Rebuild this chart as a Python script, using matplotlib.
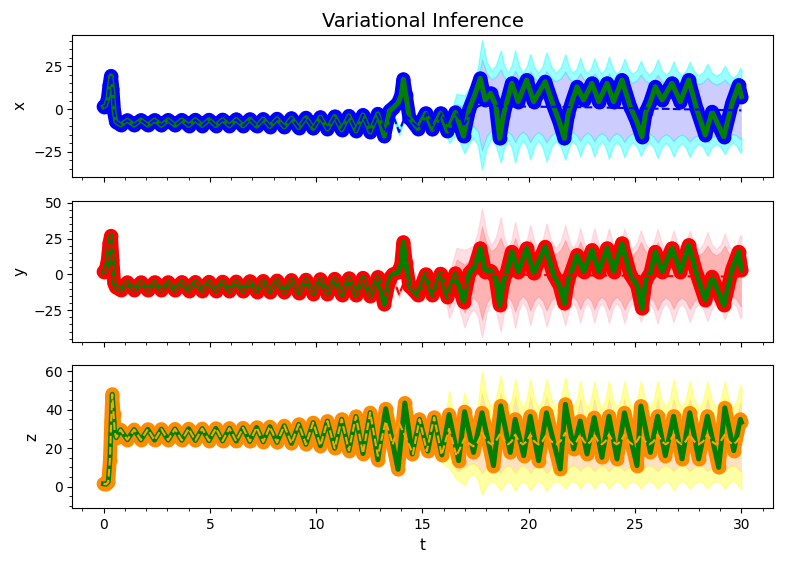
import numpy as np
import matplotlib
matplotlib.use("Agg")
import matplotlib.pyplot as plt
from matplotlib.ticker import MultipleLocator

# ---------------- data ----------------
# truth / observation key points for x and y (shared times)
t_xy = [0.0, 0.1, 0.2, 0.28, 0.35, 0.42, 0.5, 0.58, 0.8, 1.12,
        1.44, 1.76, 2.08, 2.4, 2.72, 3.04, 3.36, 3.68, 4.0, 4.32,
        4.64, 4.96, 5.28, 5.6, 5.92, 6.24, 6.56, 6.88, 7.2, 7.51,
        7.82, 8.16, 8.5, 8.84, 9.18, 9.52, 9.86, 10.2, 10.53, 10.87,
        11.2, 11.54, 11.87, 12.2, 12.54, 12.9, 13.2, 13.45, 13.6, 13.85,
        14.0, 14.1, 14.22, 14.38, 14.78, 15.15, 15.47, 15.85, 16.17, 16.55,
        16.93, 17.2, 17.45, 17.72, 17.95, 18.2, 18.45, 18.63, 18.8, 18.97,
        19.2, 19.5, 19.9, 20.23, 20.77, 21.17, 21.45, 21.67, 21.85, 22.03,
        22.27, 22.58, 22.97, 23.29, 23.68, 23.99, 24.38, 24.77, 25.1, 25.32,
        25.5, 25.72, 25.95, 26.27, 26.73, 27.13, 27.52, 27.91, 28.3, 28.62,
        29.17, 29.56, 29.87, 30.0]

x_true = [1.4, 2.0, 6.0, 14.0, 19.5, 12.0, -2.0, -7.5, -9.4, -6.6,
          -9.5, -6.5, -9.5, -6.5, -9.6, -6.4, -9.6, -6.4, -9.7, -6.3,
          -9.7, -6.3, -9.8, -6.2, -9.9, -6.1, -10.0, -6.0, -10.1, -5.9,
          -10.3, -5.7, -10.6, -5.4, -11.0, -5.1, -11.4, -4.8, -11.8, -4.4,
          -12.3, -4.0, -12.9, -3.5, -13.6, -2.8, -16.0, -1.0, 0.5, 3.5,
          8.0, 17.5, 8.0, -5.0, -11.5, -2.5, -12.0, -2.5, -13.0, -2.0,
          -16.0, 0.0, 8.0, 18.0, 5.3, 9.2, 2.0, -17.3, -4.0, 4.3,
          15.1, 4.3, 17.1, 4.3, 16.1, 1.4, -8.0, -17.3, -3.0, 4.3,
          13.1, 5.3, 15.1, 4.3, 15.1, 4.3, 17.1, 1.4, -8.0, -16.3,
          -2.0, 4.3, 13.1, 5.3, 15.1, 4.3, 17.1, -0.6, -15.3, -1.6,
          -16.3, 3.3, 14.1, 7.3]

y_true = [1.8, 3.0, 10.0, 22.0, 27.0, 10.0, -6.0, -9.0, -11.0, -5.6,
          -11.0, -5.6, -11.1, -5.5, -11.1, -5.5, -11.2, -5.4, -11.3, -5.3,
          -11.4, -5.2, -11.5, -5.1, -11.6, -5.0, -11.8, -4.8, -12.0, -4.6,
          -12.3, -4.3, -12.6, -4.0, -13.0, -3.7, -13.4, -3.4, -13.8, -3.1,
          -14.2, -2.8, -14.6, -2.4, -15.3, -1.8, -21.0, -3.0, 0.0, 1.5,
          7.0, 22.5, 8.0, -8.0, -14.5, 0.0, -14.5, 0.5, -15.6, 0.7,
          -19.0, 1.0, 5.0, 18.2, 2.0, 2.5, -3.0, -21.5, -5.0, 1.9,
          15.8, 1.9, 18.2, 0.7, 19.3, -0.5, -8.0, -20.3, -4.0, 3.1,
          13.5, 1.9, 17.0, 1.9, 18.2, 1.9, 21.7, 0.0, -8.0, -23.8,
          -4.0, 1.0, 15.8, 1.9, 18.2, 1.9, 20.5, -0.5, -17.9, -1.6,
          -21.5, 3.1, 15.8, 3.1]

# truth / observation key points for z
t_z = [0.0, 0.12, 0.22, 0.3, 0.36, 0.41, 0.47, 0.53, 0.6, 0.8,
       1.12, 1.44, 1.76, 2.08, 2.4, 2.72, 3.04, 3.36, 3.68, 4.0,
       4.32, 4.64, 4.96, 5.28, 5.6, 5.92, 6.24, 6.56, 6.88, 7.2,
       7.51, 7.82, 8.16, 8.5, 8.84, 9.18, 9.52, 9.86, 10.2, 10.53,
       10.87, 11.2, 11.54, 11.87, 12.2, 12.54, 12.9, 13.27, 13.85, 14.17,
       14.52, 14.86, 15.25, 15.55, 15.91, 16.25, 16.7, 16.98, 17.4, 17.8,
       18.34, 18.68, 19.13, 19.36, 19.76, 20.07, 20.46, 20.83, 21.48, 21.72,
       22.11, 22.42, 22.74, 23.08, 23.44, 23.77, 24.15, 24.5, 25.09, 25.27,
       25.72, 26.06, 26.42, 26.81, 27.21, 27.57, 27.99, 28.4, 28.93, 29.22,
       29.64, 29.95, 30.0]

z_true = [1.5, 1.3, 2.5, 14.0, 34.0, 48.0, 38.0, 28.0, 25.5, 29.6,
          24.4, 29.7, 24.3, 29.8, 24.2, 29.9, 24.2, 30.0, 24.1, 30.1,
          24.0, 30.2, 23.9, 30.3, 23.8, 30.4, 23.7, 30.6, 23.5, 30.8,
          23.3, 31.2, 23.0, 31.7, 22.5, 32.4, 22.0, 33.3, 21.3, 34.1,
          20.0, 35.0, 18.8, 36.5, 17.2, 38.5, 14.0, 40.5, 9.0, 43.5,
          17.0, 35.0, 18.5, 36.0, 16.5, 37.5, 13.5, 39.0, 17.8, 38.4,
          10.9, 42.0, 17.8, 35.0, 16.1, 36.6, 13.5, 38.4, 9.2, 42.8,
          19.6, 34.1, 17.0, 35.9, 15.2, 36.6, 14.4, 38.4, 10.9, 41.9,
          17.8, 36.6, 16.1, 36.6, 14.4, 38.4, 14.4, 36.6, 10.0, 41.0,
          18.7, 35.0, 33.5]

# posterior mean and band half-widths (1 and 2 std) from t = 12.54 on
t_band = [12.54, 12.9, 13.27, 13.6, 13.9, 14.2, 14.55,
          14.86, 15.2, 15.55, 15.9, 16.25, 16.6,
          16.98, 17.19, 17.39, 17.6,
          17.8, 18.02, 18.24, 18.46,
          18.68, 18.85, 19.02, 19.19,
          19.36, 19.54, 19.72, 19.9,
          20.07, 20.26, 20.45, 20.64,
          20.83, 21.06, 21.28, 21.5,
          21.72, 21.9, 22.07, 22.25,
          22.42, 22.59, 22.75, 22.92,
          23.08, 23.26, 23.43, 23.6,
          23.77, 23.95, 24.13, 24.32,
          24.5, 24.69, 24.88, 25.08,
          25.27, 25.47, 25.67, 25.87,
          26.06, 26.25, 26.44, 26.63,
          26.81, 27.0, 27.19, 27.38,
          27.57, 27.78, 27.99, 28.2,
          28.4, 28.6, 28.81, 29.02,
          29.22, 29.4, 29.59, 29.77,
          29.95, 30.0]

x_mean = [-13.6, -3.0, -14.0, -3.0, -13.5, -3.5, -8.0,
          -11.5, -2.5, -12.0, -2.5, -13.0, -3.0,
          -9.0, -4.0, -1.0, 1.5,
          2.5, 2.5, 2.5, 2.0,
          1.5, 1.5, 1.6, 1.5,
          1.5, 1.5, 1.5, 1.4,
          1.4, 1.4, 1.4, 1.3,
          1.3, 1.3, 1.3, 1.2,
          1.2, 1.2, 1.2, 1.1,
          1.1, 1.0, 1.0, 1.0,
          1.0, 0.9, 0.9, 0.8,
          0.8, 0.7, 0.7, 0.6,
          0.6, 0.5, 0.5, 0.4,
          0.4, 0.3, 0.3, 0.2,
          0.2, 0.1, 0.1, 0.0,
          0.0, -0.1, -0.1, -0.2,
          -0.2, -0.3, -0.3, -0.4,
          -0.4, -0.5, -0.5, -0.6,
          -0.6, -0.7, -0.7, -0.8,
          -0.8, -0.8]
x_s1 = [0.3, 0.5, 0.8, 1.0, 1.0, 0.8, 0.6,
        0.6, 0.6, 0.8, 1.0, 3.0, 6.0,
        10.0, 9.3, 9.0, 14.4,
        27.0, 18.6, 15.0, 17.1,
        22.0, 17.1, 15.0, 16.8,
        21.0, 16.8, 15.0, 16.8,
        21.0, 16.8, 15.0, 16.8,
        21.0, 16.8, 15.0, 16.8,
        21.0, 16.8, 15.0, 16.5,
        20.0, 16.5, 15.0, 16.5,
        20.0, 16.5, 15.0, 16.5,
        20.0, 16.5, 15.0, 16.5,
        20.0, 16.5, 15.0, 16.5,
        20.0, 16.5, 15.0, 16.5,
        20.0, 16.5, 15.0, 16.2,
        19.0, 16.2, 15.0, 16.2,
        19.0, 16.2, 15.0, 16.2,
        19.0, 16.2, 15.0, 15.9,
        18.0, 15.6, 14.0, 14.9,
        17.0, 16.0]
x_s2 = [0.6, 1.0, 1.6, 2.0, 2.0, 1.6, 1.2,
        1.2, 1.4, 1.8, 2.5, 7.0, 12.0,
        17.0, 16.3, 16.0, 22.6,
        38.0, 25.4, 20.0, 23.9,
        33.0, 23.9, 20.0, 23.9,
        33.0, 23.9, 20.0, 23.3,
        31.0, 23.3, 20.0, 23.6,
        32.0, 23.6, 20.0, 23.3,
        31.0, 23.3, 20.0, 22.7,
        29.0, 22.7, 20.0, 22.7,
        29.0, 22.7, 20.0, 23.0,
        30.0, 23.0, 20.0, 22.7,
        29.0, 22.7, 20.0, 22.4,
        28.0, 22.4, 20.0, 22.7,
        29.0, 22.7, 20.0, 22.4,
        28.0, 22.4, 20.0, 22.4,
        28.0, 22.4, 20.0, 22.1,
        27.0, 22.1, 20.0, 21.8,
        26.0, 21.5, 19.0, 20.8,
        25.0, 24.0]

y_mean = [-15.3, -2.0, -15.0, -2.0, -14.0, -3.0, -10.0,
          -14.5, 0.0, -14.5, 0.5, -15.6, 0.5,
          -10.0, -5.0, -2.0, 0.0,
          1.0, 0.8, 0.5, 0.2,
          0.0, -0.1, -0.2, -0.2,
          -0.3, -0.3, -0.3, -0.3,
          -0.4, -0.4, -0.4, -0.4,
          -0.5, -0.5, -0.5, -0.5,
          -0.6, -0.6, -0.6, -0.6,
          -0.7, -0.7, -0.7, -0.7,
          -0.8, -0.8, -0.8, -0.8,
          -0.9, -0.9, -0.9, -0.9,
          -1.0, -1.0, -1.0, -1.0,
          -1.1, -1.1, -1.1, -1.1,
          -1.2, -1.2, -1.2, -1.2,
          -1.3, -1.3, -1.3, -1.3,
          -1.4, -1.4, -1.4, -1.4,
          -1.5, -1.5, -1.5, -1.5,
          -1.5, -1.5, -1.5, -1.5,
          -1.5, -1.5]
y_s1 = [0.4, 0.6, 1.0, 1.2, 1.2, 1.0, 0.8,
        0.8, 0.8, 1.0, 1.5, 8.0, 10.0,
        17.0, 15.0, 14.0, 19.7,
        33.0, 21.0, 16.0, 19.0,
        26.0, 19.0, 16.0, 19.0,
        26.0, 18.3, 15.0, 18.0,
        25.0, 18.0, 15.0, 18.0,
        25.0, 18.0, 15.0, 18.0,
        25.0, 18.0, 15.0, 17.7,
        24.0, 17.7, 15.0, 17.7,
        24.0, 17.7, 15.0, 17.7,
        24.0, 17.7, 15.0, 17.7,
        24.0, 17.7, 15.0, 17.7,
        24.0, 17.7, 15.0, 17.7,
        24.0, 17.7, 15.0, 17.4,
        23.0, 17.4, 15.0, 17.4,
        23.0, 17.4, 15.0, 17.1,
        22.0, 17.1, 15.0, 17.1,
        22.0, 16.4, 14.0, 16.1,
        21.0, 20.0]
y_s2 = [0.8, 1.2, 2.0, 2.4, 2.4, 2.0, 1.6,
        1.6, 1.6, 2.0, 3.0, 15.0, 18.0,
        27.0, 23.5, 22.0, 29.0,
        45.0, 27.5, 20.0, 26.0,
        40.0, 25.0, 19.0, 24.4,
        37.0, 24.4, 19.0, 23.8,
        35.0, 23.8, 19.0, 24.1,
        36.0, 24.1, 19.0, 23.8,
        35.0, 23.8, 19.0, 23.2,
        33.0, 23.2, 19.0, 23.2,
        33.0, 23.2, 19.0, 23.2,
        33.0, 23.2, 19.0, 23.2,
        33.0, 23.2, 19.0, 22.9,
        32.0, 22.9, 19.0, 23.2,
        33.0, 23.2, 19.0, 22.9,
        32.0, 22.9, 19.0, 22.9,
        32.0, 22.9, 19.0, 22.6,
        31.0, 22.6, 19.0, 22.3,
        30.0, 21.6, 18.0, 21.3,
        29.0, 28.0]

z_mean = [38.5, 16.0, 34.0, 22.0, 33.0, 26.0, 17.0,
          35.0, 18.5, 36.0, 16.5, 30.0, 16.0,
          25.0, 22.5, 21.0, 23.0,
          28.0, 23.8, 22.0, 23.8,
          28.0, 23.8, 22.0, 23.5,
          27.0, 23.5, 22.0, 23.5,
          27.0, 23.5, 22.0, 23.5,
          27.0, 23.5, 22.0, 23.8,
          28.0, 23.8, 22.0, 23.5,
          27.0, 23.5, 22.0, 23.5,
          27.0, 23.5, 22.0, 23.5,
          27.0, 23.5, 22.0, 23.5,
          27.0, 23.5, 22.0, 23.5,
          27.0, 23.5, 22.0, 23.5,
          27.0, 23.5, 22.0, 23.5,
          27.0, 23.5, 22.0, 23.5,
          27.0, 23.5, 22.0, 23.5,
          27.0, 23.5, 22.0, 23.5,
          27.0, 23.5, 22.0, 23.2,
          26.0, 25.0]
z_s1 = [0.5, 0.8, 1.2, 1.5, 1.5, 1.2, 1.0,
        1.0, 1.2, 1.5, 2.0, 12.0, 8.0,
        15.0, 10.8, 9.0, 12.6,
        21.0, 14.0, 11.0, 14.0,
        21.0, 14.0, 11.0, 13.7,
        20.0, 13.7, 11.0, 13.7,
        20.0, 13.7, 11.0, 13.7,
        20.0, 13.7, 11.0, 13.7,
        20.0, 13.7, 11.0, 13.4,
        19.0, 13.4, 11.0, 13.4,
        19.0, 13.4, 11.0, 13.4,
        19.0, 13.4, 11.0, 13.4,
        19.0, 13.4, 11.0, 13.4,
        19.0, 13.4, 11.0, 13.4,
        19.0, 13.4, 11.0, 13.4,
        19.0, 13.4, 11.0, 13.4,
        19.0, 13.4, 11.0, 13.4,
        19.0, 13.4, 11.0, 13.4,
        19.0, 13.4, 11.0, 13.1,
        18.0, 17.0]
z_s2 = [1.0, 1.6, 2.4, 3.0, 3.0, 2.4, 2.0,
        2.0, 2.4, 3.0, 4.0, 20.0, 12.0,
        24.0, 17.0, 14.0, 19.4,
        32.0, 22.9, 19.0, 22.3,
        30.0, 22.3, 19.0, 22.0,
        29.0, 22.0, 19.0, 22.0,
        29.0, 22.0, 19.0, 22.0,
        29.0, 22.0, 19.0, 22.0,
        29.0, 22.0, 19.0, 21.7,
        28.0, 21.7, 19.0, 21.7,
        28.0, 21.7, 19.0, 21.7,
        28.0, 21.7, 19.0, 21.7,
        28.0, 21.7, 19.0, 21.7,
        28.0, 21.7, 19.0, 21.7,
        28.0, 21.7, 19.0, 22.0,
        29.0, 22.0, 19.0, 21.7,
        28.0, 21.7, 19.0, 21.7,
        28.0, 21.7, 19.0, 21.7,
        28.0, 21.7, 19.0, 21.4,
        27.0, 26.0]

# ---------------- drawing ----------------
fig = plt.figure(figsize=(7.89, 5.64), dpi=100)
positions = [[0.0916, 0.6867, 0.8885, 0.2512],
             [0.0916, 0.3941, 0.8885, 0.2500],
             [0.0916, 0.0988, 0.8885, 0.2540]]
axes = [fig.add_axes(p) for p in positions]

panels = [
    dict(t=t_xy, v=x_true, m=x_mean, s1=x_s1, s2=x_s2, dot='blue', mc='blue',
         outer='cyan', oa=0.38, inner='blue', ia=0.2, label='x',
         ylim=(-39.8, 43.5), major=25, minor=5),
    dict(t=t_xy, v=y_true, m=y_mean, s1=y_s1, s2=y_s2, dot='red', mc='red',
         outer='pink', oa=0.5, inner='red', ia=0.3, label='y',
         ylim=(-47.1, 51.5), major=25, minor=5),
    dict(t=t_z, v=z_true, m=z_mean, s1=z_s1, s2=z_s2, dot='darkorange', mc='orange',
         outer='yellow', oa=0.35, inner='darkorange', ia=0.25, label='z',
         ylim=(-11.2, 63.2), major=20, minor=5),
]

tb = np.array(t_band)
for ax, p in zip(axes, panels):
    t = np.array(p['t'])
    v = np.array(p['v'])
    m = np.array(p['m'])
    s1 = np.array(p['s1'])
    s2 = np.array(p['s2'])
    # uncertainty bands
    ax.fill_between(tb, m + s1, m + s2, color=p['outer'], alpha=p['oa'], lw=1, zorder=1)
    ax.fill_between(tb, m - s2, m - s1, color=p['outer'], alpha=p['oa'], lw=1, zorder=1)
    ax.fill_between(tb, m - s1, m + s1, color=p['inner'], alpha=p['ia'], lw=0, zorder=1)
    # observations
    ax.plot(t, v, '-o', color=p['dot'], lw=10, ms=9, solid_joinstyle='round',
            solid_capstyle='round', zorder=2)
    # truth
    ax.plot(t, v, color='green', lw=3.6, solid_joinstyle='round', zorder=3)
    # posterior mean: follows truth early, own values afterwards
    early = t < t_band[0]
    mt = np.concatenate([t[early], tb])
    mv = np.concatenate([v[early], m])
    ax.plot(mt, mv, '--', color=p['mc'], lw=1.5, zorder=4)

    ax.set_xlim(-1.47, 31.5)
    ax.set_ylim(*p['ylim'])
    ax.xaxis.set_major_locator(MultipleLocator(5))
    ax.xaxis.set_minor_locator(MultipleLocator(1))
    ax.yaxis.set_major_locator(MultipleLocator(p['major']))
    ax.yaxis.set_minor_locator(MultipleLocator(p['minor']))
    ax.tick_params(labelsize=10)
    ax.set_ylabel(p['label'], fontsize=11)

axes[0].tick_params(labelbottom=False)
axes[1].tick_params(labelbottom=False)
axes[2].set_xlabel('t', fontsize=11)
axes[0].set_title('Variational Inference', fontsize=14)

fig.savefig('out.png', dpi=100)
